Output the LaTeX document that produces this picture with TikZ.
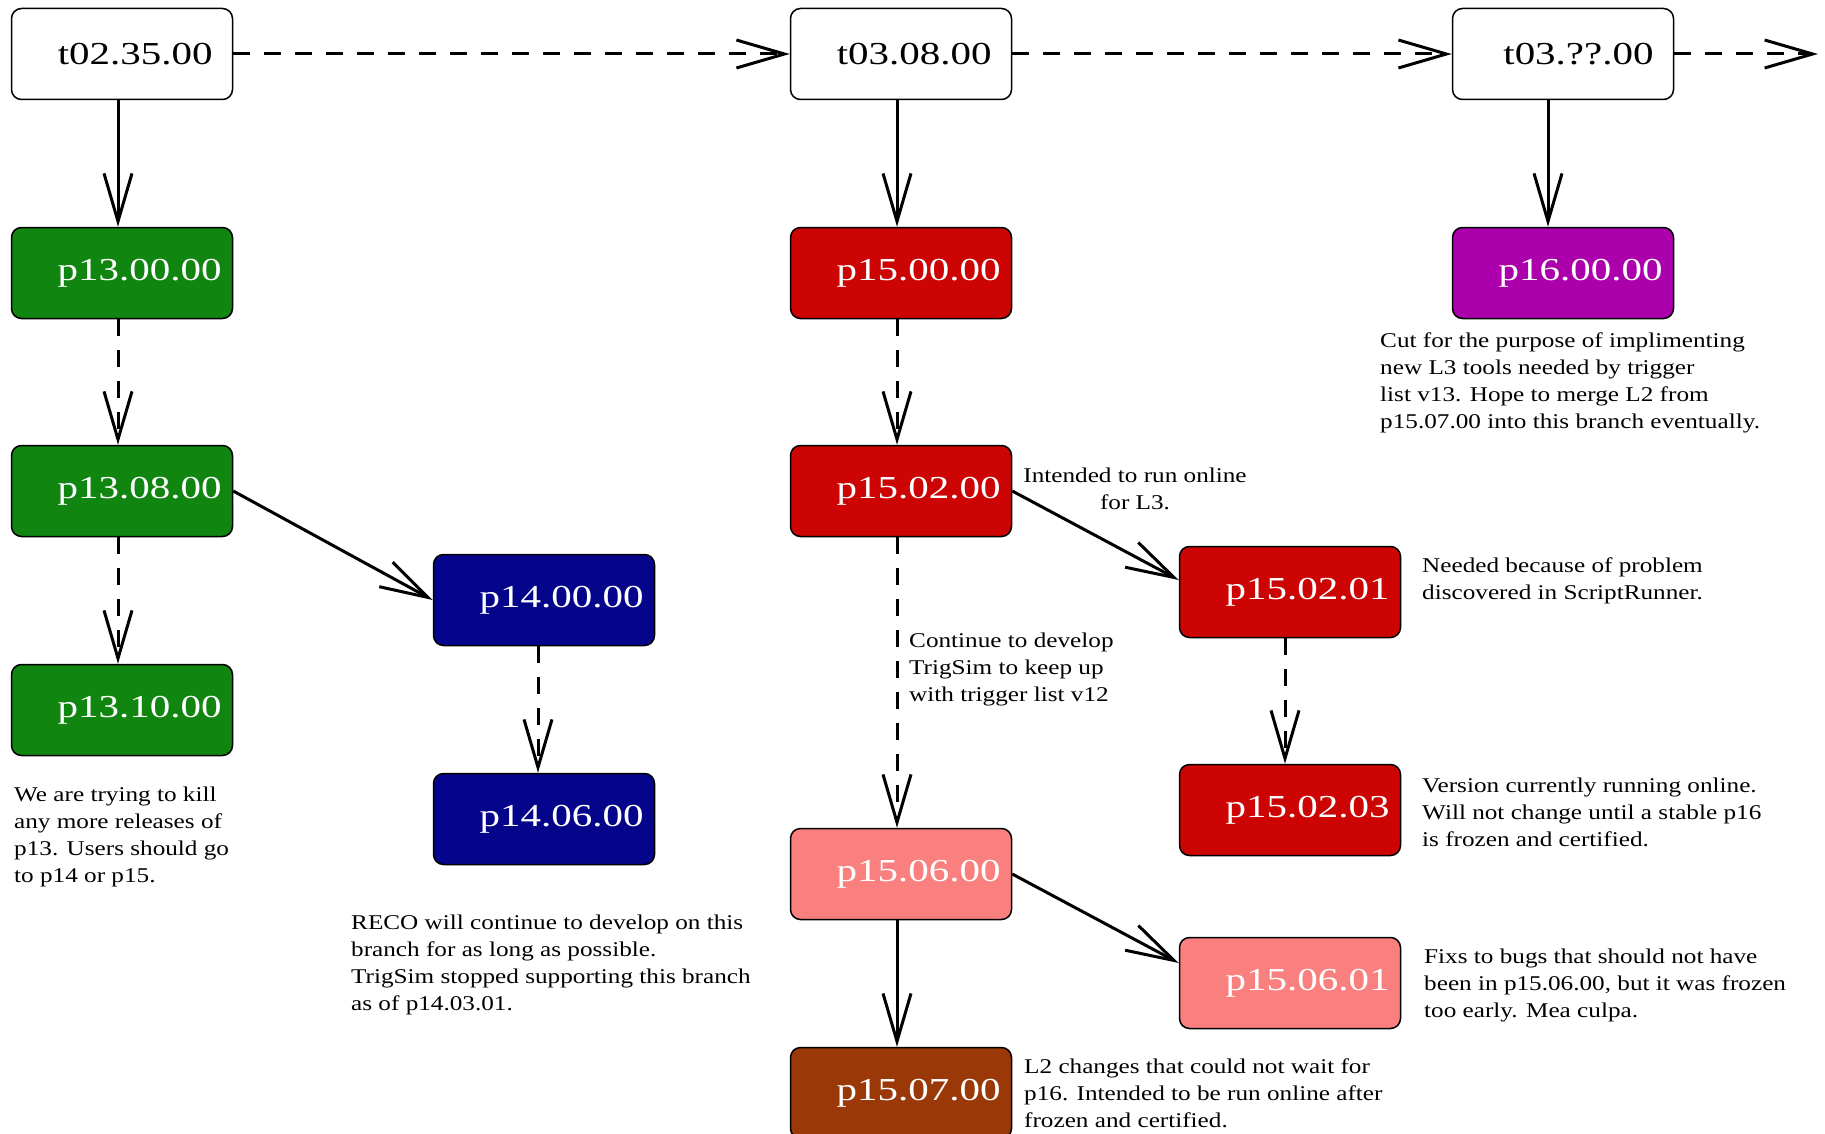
\documentclass[tikz,border=0pt]{standalone}
\usepackage{fontspec}
\setmainfont{Liberation Serif}
\newfontfamily\relfont[FakeStretch=1.28]{Liberation Serif}
\newfontfamily\notefont[FakeStretch=1.2]{Liberation Serif}
\usetikzlibrary{arrows.meta}

\definecolor{relgreen}{RGB}{16,134,16}
\definecolor{relnavy}{RGB}{5,5,140}
\definecolor{relred}{RGB}{204,4,4}
\definecolor{relpink}{RGB}{250,128,128}
\definecolor{relbrown}{RGB}{155,56,8}
\definecolor{relpurple}{RGB}{172,0,172}

\tikzset{
  release/.style={draw=black, line width=1.5pt, rounded corners=10pt,
    minimum width=221pt, minimum height=91pt, text width=199pt, align=right,
    inner xsep=11pt, inner ysep=0pt, text=white,
    font=\relfont\fontsize{32}{36}\selectfont},
  tag/.style={release, fill=white, text=black, text width=181pt, inner xsep=20pt},
  note/.style={inner sep=0pt, align=left, anchor=north west,
    font=\notefont\fontsize{21}{27}\selectfont},
  link/.style={line width=3pt, -{Straight Barb[length=48pt,width=28pt]}},
  later/.style={link, dash pattern=on 17pt off 14pt},
}

\begin{document}
\begin{tikzpicture}[x=1pt,y=-1pt]
\fill[white] (0,0) rectangle (1825,1134);
\useasboundingbox (0,0) rectangle (1825,1134);

% trunk tags
\node[tag] (t0235) at (122,54) {t02.35.00};
\node[tag] (t0308) at (901,54) {t03.08.00};
\node[tag] (t03qq) at (1563,54) {t03.??.00};
\coordinate (tnext) at (1818,54);

% release branches
\node[release, fill=relgreen] (p1300) at (122,273) {p13.00.00};
\node[release, fill=relgreen] (p1308) at (122,491) {p13.08.00};
\node[release, fill=relgreen] (p1310) at (122,710) {p13.10.00};
\node[release, fill=relnavy] (p1400) at (544,600) {p14.00.00};
\node[release, fill=relnavy] (p1406) at (544,819) {p14.06.00};
\node[release, fill=relred] (p1500) at (901,273) {p15.00.00};
\node[release, fill=relred] (p1502) at (901,491) {p15.02.00};
\node[release, fill=relred] (p150201) at (1290,592) {p15.02.01};
\node[release, fill=relred] (p150203) at (1290,810) {p15.02.03};
\node[release, fill=relpink] (p1506) at (901,874) {p15.06.00};
\node[release, fill=relpink] (p150601) at (1290,983) {p15.06.01};
\node[release, fill=relbrown] (p1507) at (901,1093) {p15.07.00};
\node[release, fill=relpurple] (p1600) at (1563,273) {p16.00.00};

% trunk progression
\draw[later] (t0235) -- (t0308);
\draw[later] (t0308) -- (t03qq);
\draw[later] (t03qq) -- (tnext);

% p13 line
\draw[link] ([xshift=-4pt]t0235.south) -- ([xshift=-4pt]p1300.north);
\draw[later] ([xshift=-4pt]p1300.south) -- ([xshift=-4pt]p1308.north);
\draw[later] ([xshift=-4pt]p1308.south) -- ([xshift=-4pt]p1310.north);
\draw[link] (p1308.east) -- (p1400.west);
\draw[later] ([xshift=-6pt]p1400.south) -- ([xshift=-6pt]p1406.north);

% p15 line
\draw[link] ([xshift=-4pt]t0308.south) -- ([xshift=-4pt]p1500.north);
\draw[later] ([xshift=-4pt]p1500.south) -- ([xshift=-4pt]p1502.north);
\draw[link] (p1502.east) -- ([yshift=12pt]p150201.west);
\draw[later] ([xshift=-5pt]p150201.south) -- ([xshift=-5pt]p150203.north);
\draw[later] ([xshift=-4pt]p1502.south) -- ([xshift=-4pt]p1506.north);
\draw[link] (p1506.east) -- ([yshift=20pt]p150601.west);
\draw[link] ([xshift=-4pt]p1506.south) -- ([xshift=-4pt]p1507.north);

% p16 line
\draw[link] ([xshift=-15pt]t03qq.south) -- ([xshift=-15pt]p1600.north);

% notes
\node[note] (n13) at (14,787) {We are trying to kill\\any more releases of\\p13.  Users should go\\to p14 or p15.};
\node[note] (n14) at (351,915) {RECO will continue to develop on this\\branch for as long as possible.\\TrigSim stopped supporting this branch\\as of p14.03.01.};
\node[note] (n16) at (1380,333) {Cut for the purpose of implimenting\\new L3 tools needed by trigger\\list v13. Hope to merge L2 from\\p15.07.00 into this branch eventually.};
\node[note, anchor=north, align=center] (n1502) at (1135,468) {Intended to run online\\for L3.};
\node[note] (n150201) at (1422,558) {Needed because of problem\\discovered in ScriptRunner.};
\node[note] (ndev) at (909,633) {Continue to develop\\TrigSim to keep up\\with trigger list v12};
\node[note] (n150203) at (1422,778) {Version currently running online.\\Will not change until a stable p16\\is frozen and certified.};
\node[note] (n150601) at (1424,949) {Fixs to bugs that should not have\\been in p15.06.00, but it was frozen\\too early.  Mea culpa.};
\node[note] (n1507) at (1024,1059) {L2 changes that could not wait for\\p16.  Intended to be run online after\\frozen and certified.};
\end{tikzpicture}
\end{document}
